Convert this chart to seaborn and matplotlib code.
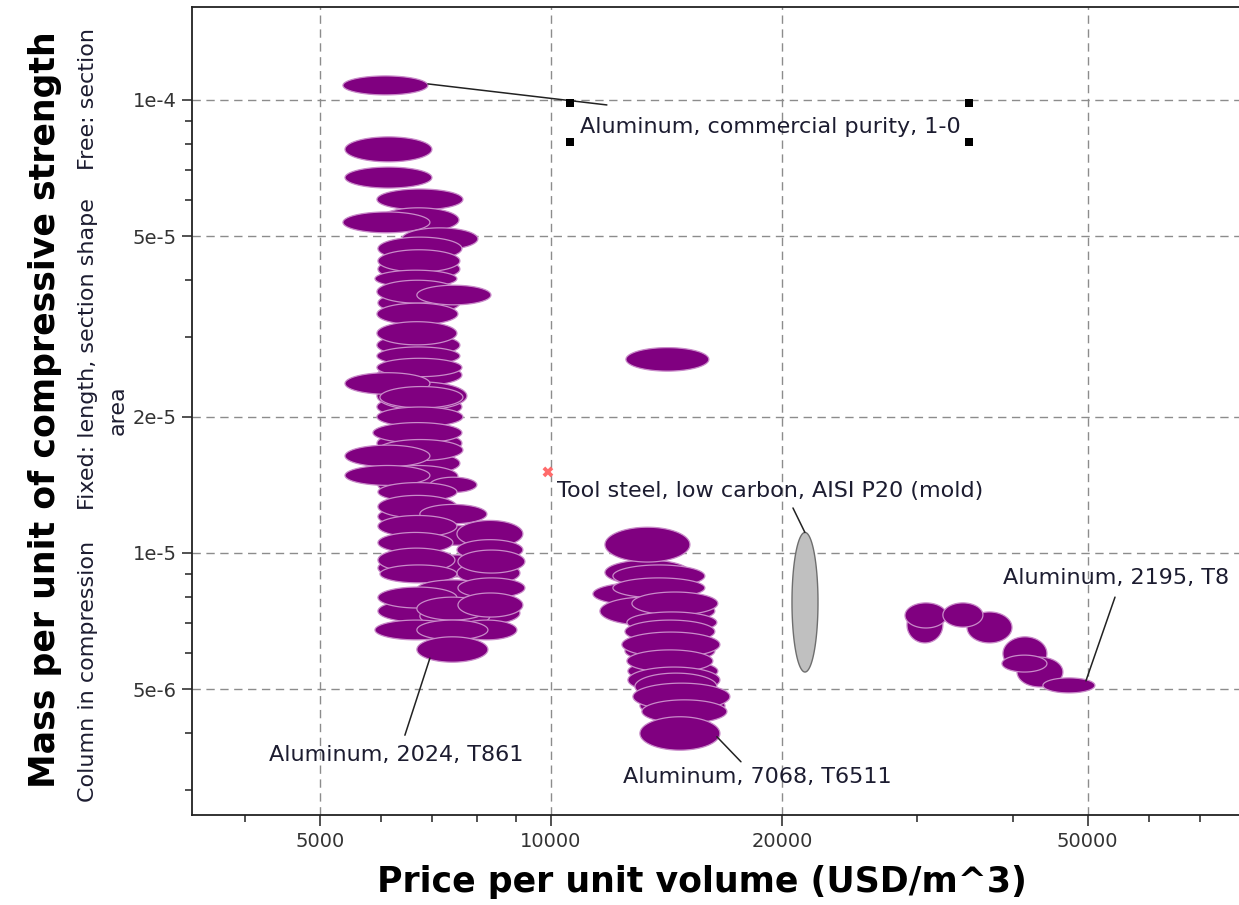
"""
Price per unit volume vs mass per unit of compressive strength
(column in compression) - material property ellipses on log-log axes
"""

import numpy as np
import pandas as pd
import matplotlib
matplotlib.use("Agg")
import matplotlib.pyplot as plt
import seaborn as sns

# ---- data: each material is a range of price (USD/m^3) and mass index ----
# aluminum alloys (purple bubbles); the first ones sit underneath the stack
alu_price_lo = [5953, 5953, 5935, 5935, 5935, 5935, 5953, 5953, 5953, 5953,
                5953, 6750, 6750, 7544, 7544, 6750,
                12484, 12484, 12596, 13057, 11757,
                5360, 5393, 5393, 5935, 5953, 5360, 6397, 5953, 5953, 5900,
                5935, 6690, 5935, 5935, 5935, 5935, 5935, 5393, 5989, 5935,
                5865, 5953, 5393, 5953, 5393, 6957, 5953, 5953, 6750, 5953,
                7544, 5953, 7544, 5953, 7567, 5989, 6690, 7567, 5953, 6690,
                7567, 5900, 7544, 6690, 6690,
                11757, 12042, 11342, 12042, 11582, 12748, 12558, 12484, 12370,
                12558, 12596, 12863, 12786, 13135, 13057, 12521,
                29081, 28907, 34814, 32385, 38775, 40446, 38659, 43716]
alu_price_hi = [7612, 7612, 7612, 7658, 7658, 7658, 7612, 7567, 7544, 7544,
                7544, 8329, 8329, 9113, 9113, 8329,
                16348, 16348, 16496, 16853, 15171,
                6915, 6999, 6999, 7681, 7590, 6957, 8033, 7658, 7612, 7544,
                7567, 8354, 7567, 7544, 7612, 7658, 7773, 6957, 7681, 7681,
                7658, 7681, 6957, 7567, 6957, 8009, 7544, 7544, 8254, 7544,
                9194, 7454, 9194, 7499, 9250, 7544, 8329, 9250, 7544, 8279,
                9194, 7544, 9030, 8279, 8279,
                15171, 15866, 14723, 15866, 15171, 16496, 16446, 16348, 16598,
                16251, 16598, 16446, 17103, 16950, 16598, 16057,
                32385, 32776, 39844, 36517, 44243, 46416, 44243, 51090]
alu_mass_lo = [4.00e-5, 3.37e-5, 2.72e-5, 2.34e-5, 1.99e-5, 1.65e-5, 1.49e-5,
               1.34e-5, 1.14e-5, 8.76e-6, 7.04e-6, 1.04e-5, 8.85e-6, 8.54e-6,
               6.97e-6, 6.86e-6,
               7.04e-6, 5.74e-6, 5.19e-6, 4.35e-6, 8.50e-6,
               1.026e-4, 7.30e-5, 6.39e-5, 5.72e-5, 5.11e-5, 5.09e-5, 4.67e-5,
               4.43e-5, 4.17e-5, 3.86e-5, 3.56e-5, 3.53e-5, 3.19e-5, 2.88e-5,
               2.60e-5, 2.45e-5, 2.07e-5, 2.24e-5, 2.09e-5, 1.90e-5, 1.75e-5,
               1.60e-5, 1.55e-5, 1.40e-5, 1.41e-5, 1.36e-5, 1.30e-5, 1.195e-5,
               1.16e-5, 1.085e-5, 1.03e-5, 1.00e-5, 9.65e-6, 9.08e-6, 9.03e-6,
               8.59e-6, 7.96e-6, 7.96e-6, 7.56e-6, 7.11e-6, 7.22e-6, 6.43e-6,
               6.43e-6, 6.43e-6, 5.74e-6,
               9.55e-6, 8.41e-6, 7.68e-6, 7.96e-6, 6.93e-6, 7.30e-6, 6.66e-6,
               6.33e-6, 5.89e-6, 5.46e-6, 4.91e-6, 4.74e-6, 4.50e-6, 4.21e-6,
               3.67e-6, 2.52e-5,
               6.33e-6, 6.83e-6, 6.33e-6, 6.86e-6, 5.51e-6, 5.06e-6, 5.46e-6,
               4.91e-6]
alu_mass_hi = [4.48e-5, 3.77e-5, 3.04e-5, 2.61e-5, 2.22e-5, 1.85e-5, 1.67e-5,
               1.49e-5, 1.27e-5, 9.80e-6, 7.87e-6, 1.15e-5, 9.90e-6, 9.55e-6,
               7.79e-6, 7.68e-6,
               7.87e-6, 6.43e-6, 5.80e-6, 4.86e-6, 9.65e-6,
               1.130e-4, 8.29e-5, 7.11e-5, 6.36e-5, 5.78e-5, 5.66e-5, 5.22e-5,
               4.98e-5, 4.67e-5, 4.21e-5, 4.00e-5, 3.90e-5, 3.56e-5, 3.24e-5,
               2.85e-5, 2.69e-5, 2.385e-5, 2.50e-5, 2.33e-5, 2.10e-5, 1.94e-5,
               1.78e-5, 1.73e-5, 1.56e-5, 1.56e-5, 1.47e-5, 1.43e-5, 1.34e-5,
               1.28e-5, 1.21e-5, 1.18e-5, 1.11e-5, 1.07e-5, 1.025e-5, 1.015e-5,
               9.41e-6, 8.72e-6, 8.81e-6, 8.41e-6, 7.99e-6, 8.16e-6, 7.11e-6,
               7.11e-6, 7.11e-6, 6.53e-6,
               1.14e-5, 9.41e-6, 8.59e-6, 8.81e-6, 7.99e-6, 8.20e-6, 7.41e-6,
               7.11e-6, 6.69e-6, 6.11e-6, 5.60e-6, 5.43e-6, 5.16e-6, 4.74e-6,
               4.35e-6, 2.84e-5,
               7.60e-6, 7.76e-6, 7.41e-6, 7.76e-6, 6.53e-6, 5.89e-6, 5.95e-6,
               5.30e-6]

# tool steel (grey bubble)
steel_price = [20600, 22271]
steel_mass = [5.46e-6, 1.11e-5]

# labels: text, text anchor (price, mass), leader line start and end
label_text = ["Aluminum, commercial purity, 1-0", "Aluminum, 2024, T861",
              "Aluminum, 7068, T6511", "Tool steel, low carbon, AISI P20 (mold)",
              "Aluminum, 2195, T8"]
label_x = [10908, 6284, 18543, 10181, 38775]
label_y = [8.716e-5, 3.58e-6, 3.20e-6, 1.37e-5, 8.81e-6]
label_ha = ["left", "center", "center", "left", "left"]
leader_x0 = [6915, 6957, 16446, 21414, 49730]
leader_y0 = [1.085e-4, 5.86e-6, 3.93e-6, 1.11e-5, 5.22e-6]
leader_x1 = [11826, 6454, 17678, 20661, 54260]
leader_y1 = [9.75e-5, 3.96e-6, 3.46e-6, 1.257e-5, 7.99e-6]

# selection handles around the first label and the pin of the tool steel label
handle_x = [10586, 35025, 10586, 35025]
handle_y = [9.85e-5, 9.85e-5, 8.08e-5, 8.08e-5]
pin_x = [9910]
pin_y = [1.51e-5]

x_major = [5000, 10000, 20000, 50000]
x_minor = [4000, 6000, 7000, 8000, 9000, 30000, 40000, 60000, 70000]
y_major = [5e-6, 1e-5, 2e-5, 5e-5, 1e-4]
y_major_labels = ["5e-6", "1e-5", "2e-5", "5e-5", "1e-4"]
y_minor = [3e-6, 4e-6, 6e-6, 7e-6, 8e-6, 9e-6,
           3e-5, 4e-5, 6e-5, 7e-5, 8e-5, 9e-5]


def log_ellipse(x_lo, x_hi, y_lo, y_hi, n=120):
    """ ellipse spanning the given ranges, drawn in log-log space """
    t = np.linspace(0, 2 * np.pi, n)
    cx = (np.log10(x_lo) + np.log10(x_hi)) / 2
    rx = (np.log10(x_hi) - np.log10(x_lo)) / 2
    cy = (np.log10(y_lo) + np.log10(y_hi)) / 2
    ry = (np.log10(y_hi) - np.log10(y_lo)) / 2
    return 10 ** (cx + rx * np.cos(t)), 10 ** (cy + ry * np.sin(t))


sns.set_theme(style="white")
plt.rcParams['font.family'] = ['DejaVu Sans']

fig = plt.figure(figsize=(12.39, 9.05), dpi=100)
ax = fig.add_axes([192 / 1239, 90 / 905, 1058 / 1239, 808 / 905])
ax.set_xscale("log")
ax.set_yscale("log")
ax.set_xlim(3409, 81330)
ax.set_ylim(2.64e-6, 1.604e-4)

# grid
for v in x_major:
    ax.axvline(v, color="#8c8c8c", lw=1.0, ls=(0, (6, 4)), zorder=0)
for v in y_major:
    ax.axhline(v, color="#8c8c8c", lw=1.0, ls=(0, (6, 4)), zorder=0)

# bubbles
alu = pd.DataFrame({"p_lo": alu_price_lo, "p_hi": alu_price_hi,
                    "m_lo": alu_mass_lo, "m_hi": alu_mass_hi})
for _, r in alu.iterrows():
    ex, ey = log_ellipse(r.p_lo, r.p_hi, r.m_lo, r.m_hi)
    ax.fill(ex, ey, facecolor="#800080", edgecolor="#c98bc9", lw=0.9, zorder=2)

ex, ey = log_ellipse(steel_price[0], steel_price[1], steel_mass[0], steel_mass[1])
ax.fill(ex, ey, facecolor="#c0c0c0", edgecolor="#6e6e6e", lw=1.0, zorder=2)

# labels with leader lines
for i, txt in enumerate(label_text):
    ax.plot([leader_x0[i], leader_x1[i]], [leader_y0[i], leader_y1[i]],
            color="#222222", lw=1.1, zorder=3)
    ax.text(label_x[i], label_y[i], txt, ha=label_ha[i], va="center",
            fontsize=16, color="#1c1c30", zorder=4)

sns.scatterplot(x=handle_x, y=handle_y, marker="s", s=30, color="black",
                edgecolor="none", ax=ax, zorder=5)
sns.scatterplot(x=pin_x, y=pin_y, marker="X", s=60, color="#ff6b6b",
                edgecolor="none", ax=ax, zorder=5)

# ticks
ax.set_xticks(x_major)
ax.set_xticklabels([str(v) for v in x_major])
ax.set_xticks(x_minor, minor=True)
ax.set_xticklabels([], minor=True)
ax.set_yticks(y_major)
ax.set_yticklabels(y_major_labels)
ax.set_yticks(y_minor, minor=True)
ax.set_yticklabels([], minor=True)
ax.tick_params(axis="x", which="major", direction="out", length=8, width=1.1,
               color="#222222", labelsize=14, labelcolor="#333333", pad=4,
               bottom=True)
ax.tick_params(axis="x", which="minor", direction="out", length=5, width=1.1,
               color="#222222", bottom=True)
ax.tick_params(axis="y", which="major", direction="out", length=7, width=1.1,
               color="#222222", labelsize=14, labelcolor="#333333", pad=4,
               left=True)
ax.tick_params(axis="y", which="minor", direction="out", length=5, width=1.1,
               color="#222222", left=True)

for side in ["left", "bottom", "top"]:
    ax.spines[side].set_color("#222222")
    ax.spines[side].set_linewidth(1.3)
ax.spines["right"].set_visible(False)

# axis titles
fig.text(702 / 1239, 1 - 882 / 905, "Price per unit volume (USD/m^3)",
         ha="center", va="center", fontsize=25, fontweight="bold", color="black")
fig.text(45 / 1239, 1 - 410 / 905, "Mass per unit of compressive strength",
         ha="center", va="center", rotation=90, fontsize=25, fontweight="bold",
         color="black")
for txt, xp, yp in [("Column in compression", 88, 671),
                    ("Fixed: length, section shape", 88, 354),
                    ("Free: section", 88, 99),
                    ("area", 118, 410)]:
    fig.text(xp / 1239, 1 - yp / 905, txt, ha="center", va="center",
             rotation=90, fontsize=16, color="#1c1c30")

fig.savefig("out.png", dpi=100)
